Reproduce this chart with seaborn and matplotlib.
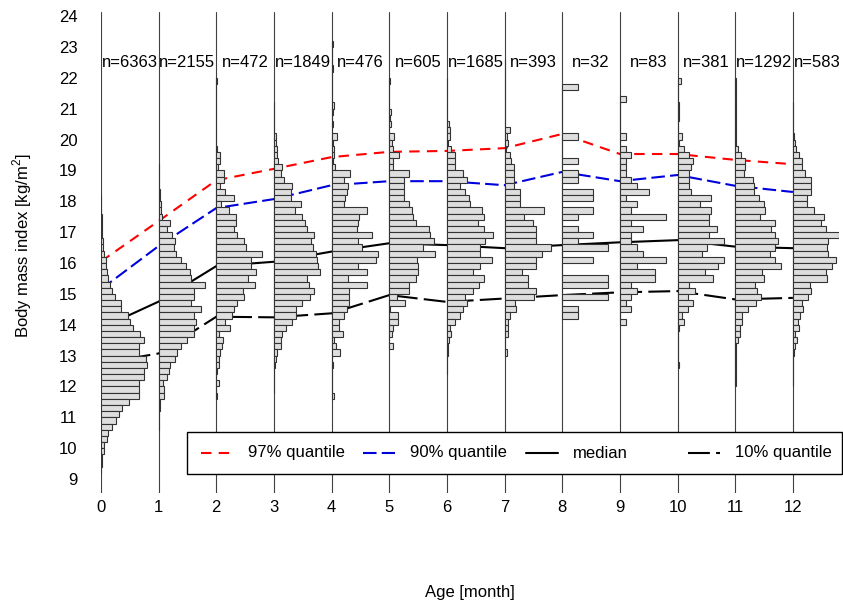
import numpy as np
import pandas as pd
import matplotlib
matplotlib.use("Agg")
import matplotlib.pyplot as plt
import seaborn as sns
from matplotlib.lines import Line2D
from matplotlib.patches import Rectangle

# ---------------- data ----------------
ages = list(range(13))
n_obs = [6363, 2155, 472, 1849, 476, 605, 1685, 393, 32, 83, 381, 1292, 583]

q97 = [16.05, 17.36, 18.68, 19.05, 19.43, 19.60, 19.63, 19.72, 20.18, 19.53, 19.53, 19.34, 19.20]
q90 = [15.15, 16.55, 17.78, 18.07, 18.52, 18.65, 18.65, 18.52, 18.95, 18.65, 18.85, 18.50, 18.30]
q50 = [13.89, 14.75, 15.90, 16.04, 16.37, 16.64, 16.58, 16.48, 16.58, 16.67, 16.74, 16.53, 16.48]
q10 = [12.75, 13.07, 14.26, 14.24, 14.37, 14.96, 14.74, 14.85, 14.96, 15.05, 15.09, 14.82, 14.87]

bin_width = 0.2
# upper edge of the highest bin for each age; counts listed from high BMI to low BMI
hist_top = [18.2, 19.2, 22.0, 21.2, 23.2, 22.0, 22.0, 22.6, 21.8, 21.4, 22.0, 22.0, 21.2]

hist_age0 = [1, 1, 1, 2, 2, 3, 4, 5, 7, 10, 14, 16, 18, 21, 28, 34, 43, 61, 61, 81,
             88, 96, 116, 128, 113, 113, 136, 138, 128, 128, 115, 115, 113, 83, 63,
             53, 44, 33, 21, 18, 8, 8, 4, 2, 1]
hist_age1 = [1, 1, 2, 2, 3, 4, 8, 8, 10, 35, 25, 40, 48, 45, 53, 67, 82, 95, 98, 138,
             105, 105, 98, 128, 107, 112, 105, 105, 85, 68, 55, 48, 35, 32, 25, 12, 15,
             15, 3, 3, 2, 2, 1]
hist_age2 = [2, 0, 0, 0, 0, 0, 0, 0, 0, 0, 0, 3, 10, 12, 5, 22, 22, 12, 25, 52, 15, 37,
             60, 58, 52, 63, 83, 90, 138, 105, 105, 118, 95, 115, 80, 83, 62, 52, 48, 25,
             40, 8, 20, 18, 10, 8, 8, 3, 0, 8, 0, 2]
hist_age3 = [1, 1, 1, 1, 1, 5, 5, 8, 10, 12, 24, 22, 30, 53, 52, 52, 80, 62, 83, 92,
             98, 120, 112, 118, 125, 128, 132, 138, 100, 105, 120, 108, 85, 65, 65, 53,
             37, 25, 22, 22, 8, 5, 2, 1, 1, 1, 1]
hist_age4 = [3, 0, 0, 0, 3, 0, 0, 0, 0, 0, 8, 3, 0, 3, 0, 15, 5, 8, 8, 3, 10, 55, 37,
             50, 45, 40, 37, 105, 83, 78, 75, 122, 80, 92, 138, 132, 80, 105, 50, 105,
             53, 53, 53, 45, 38, 22, 22, 35, 8, 12, 25, 0, 3, 0, 0, 0, 0, 8]
hist_age5 = [2, 0, 0, 0, 0, 5, 3, 5, 0, 15, 8, 10, 30, 10, 10, 60, 45, 45, 45, 45, 60,
             68, 72, 80, 118, 122, 135, 100, 138, 83, 87, 85, 80, 60, 58, 22, 47, 3, 27,
             25, 12, 8, 0, 12]
hist_age6 = [1, 1, 1, 1, 1, 1, 1, 5, 10, 8, 3, 12, 25, 23, 23, 47, 60, 40, 55, 67, 70,
             105, 110, 92, 110, 138, 115, 100, 100, 135, 100, 78, 112, 95, 78, 55, 60,
             47, 40, 25, 10, 12, 5, 3, 3, 1, 1, 1]
hist_age7 = [1, 1, 1, 1, 1, 1, 1, 1, 0, 0, 0, 15, 8, 10, 5, 15, 20, 28, 28, 28, 28, 47,
             47, 47, 118, 57, 85, 93, 93, 93, 138, 113, 93, 93, 52, 70, 70, 95, 87, 30,
             35, 15, 10, 10, 10, 0, 0, 8]
hist_age8 = [1, 0, 0, 0, 0, 0, 0, 0, 1, 0, 0, 0, 1, 0, 1, 1, 0, 2, 2, 0, 2, 1, 0, 1, 2,
             1, 3, 0, 2, 0, 0, 3, 3, 0, 3, 0, 1, 1]
hist_age9 = [1, 0, 0, 0, 0, 0, 1, 0, 1, 2, 1, 1, 1, 2, 3, 5, 1, 3, 2, 8, 2, 4, 2, 2, 3,
             4, 8, 3, 6, 6, 2, 3, 2, 1, 2, 0, 1]
hist_age10 = [10, 0, 0, 0, 3, 3, 3, 0, 0, 14, 5, 19, 34, 46, 40, 34, 34, 34, 40, 98, 66,
              98, 92, 92, 116, 92, 136, 88, 72, 136, 120, 82, 104, 34, 52, 30, 46, 30,
              12, 19, 4, 2, 0, 0, 0, 0, 4]
hist_age11 = [1, 1, 1, 1, 1, 1, 1, 1, 1, 1, 3, 8, 18, 30, 30, 25, 52, 55, 55, 72, 85,
              88, 75, 118, 108, 118, 128, 118, 105, 118, 138, 80, 87, 60, 65, 78, 63,
              38, 20, 20, 15, 15, 8, 3, 2, 2, 1, 1, 1, 1]
hist_age12 = [1, 1, 1, 1, 1, 2, 6, 8, 18, 26, 26, 36, 53, 53, 53, 43, 41, 61, 91, 84,
              98, 136, 104, 101, 104, 128, 114, 98, 101, 51, 53, 46, 26, 29, 22, 16, 18,
              6, 12, 6, 3, 1, 1, 1, 1, 1]

hist_counts = [hist_age0, hist_age1, hist_age2, hist_age3, hist_age4, hist_age5,
               hist_age6, hist_age7, hist_age8, hist_age9, hist_age10, hist_age11,
               hist_age12]

legend_labels = ["97% quantile", "90% quantile", "median", "10% quantile"]

# ---------------- style ----------------
sns.set_theme(style="white")
plt.rcParams["font.family"] = ["Liberation Sans", "DejaVu Sans"]
plt.rcParams["mathtext.fontset"] = "custom"
plt.rcParams["mathtext.rm"] = "Liberation Sans"
plt.rcParams["text.color"] = "black"
plt.rcParams["xtick.color"] = "black"
plt.rcParams["ytick.color"] = "black"

W, H = 843, 605
fig = plt.figure(figsize=(W / 100, H / 100), dpi=100)
ax = fig.add_axes([101 / W, (H - 493) / H, 738 / W, 481 / H])

# baseline vertical lines
for a in ages:
    ax.axvline(a, color="#404040", lw=0.8, zorder=1)

# quantile lines
df = pd.DataFrame({"age": ages, "q97": q97, "q90": q90, "q50": q50, "q10": q10})
line_specs = [
    ("q97", "#ff0000", (0, (5, 3.5))),
    ("q90", "#0000dd", (0, (6.5, 2.5))),
    ("q50", "black", "-"),
    ("q10", "black", (0, (10.5, 3))),
]
for col, color, ls in line_specs:
    sns.lineplot(data=df, x="age", y=col, color=color, lw=1.5, linestyle=ls,
                 errorbar=None, ax=ax, zorder=2)

# histograms
for a, top, counts in zip(ages, hist_top, hist_counts):
    c = np.asarray(counts, dtype=float)
    lows = top - bin_width * (np.arange(len(c)) + 1)
    widths = c / c.max() * 0.8
    ax.barh(lows, widths, height=bin_width, left=a, align="edge",
            color="#dedede", edgecolor="#333333", linewidth=0.8, zorder=3)

# sample sizes (last label kept inside the figure)
for a, n in zip(ages, n_obs):
    xt = min(a + 0.5, 12.42)
    ax.text(xt, 22.5, f"n={n}", ha="center", va="center", fontsize=12, zorder=4)

ax.set_xlim(0, 12.8)
ax.set_ylim(8.55, 24.13)
ax.set_xticks(ages)
ax.set_yticks(list(range(9, 25)))
ax.tick_params(axis="x", length=0, pad=5, labelsize=12)
ax.tick_params(axis="y", length=0, pad=17, labelsize=12)
ax.set_xlabel("")
ax.set_ylabel("")
for s in ax.spines.values():
    s.set_visible(False)

fig.text(470 / W, 1 - 593 / H, "Age [month]", ha="center", va="center", fontsize=12)
fig.text(22 / W, 1 - 246 / H, "Body mass index [kg/m$^2$]", rotation=90,
         ha="center", va="center", fontsize=12)

# legend box
fig.add_artist(Rectangle((187 / W, 1 - 474 / H), 655 / W, 42 / H,
                         transform=fig.transFigure, facecolor="white",
                         edgecolor="black", lw=1.0, zorder=5))
yc = 1 - 453 / H
for i, ((col, color, ls), lab) in enumerate(zip(line_specs, legend_labels)):
    x0 = 201 + i * 162.3
    fig.add_artist(Line2D([x0 / W, (x0 + 32) / W], [yc, yc], transform=fig.transFigure,
                          color=color, lw=1.5, linestyle=ls, zorder=6))
    fig.text((x0 + 47) / W, yc, lab, ha="left", va="center", fontsize=12, zorder=6)

fig.savefig("out.png", dpi=100)
